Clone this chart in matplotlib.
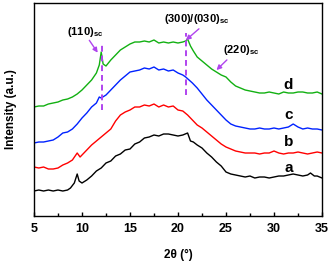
import numpy as np
import matplotlib
matplotlib.use('Agg')
from matplotlib import pyplot as plt

plt.rcParams['font.family'] = ['Liberation Sans', 'DejaVu Sans']
plt.rcParams['mathtext.fontset'] = 'custom'
plt.rcParams['mathtext.rm'] = 'Liberation Sans:bold'
plt.rcParams['mathtext.bf'] = 'Liberation Sans:bold'

# XRD patterns (arbitrary intensity units, curves already offset)
theta_a = [5.0, 5.5, 6.0, 6.5, 7.0, 7.5, 8.0, 8.5, 8.8, 9.2, 9.5, 9.7, 10.0, 10.5,
           11.0, 11.5, 12.0, 12.5, 13.0, 13.5, 14.0, 14.5, 15.0, 15.5, 16.0, 16.5,
           17.0, 17.5, 18.0, 18.5, 19.0, 19.5, 20.0, 20.5, 21.0, 21.3, 21.6, 22.0,
           22.5, 23.0, 23.5, 24.0, 24.5, 25.0, 25.5, 26.0, 26.5, 27.0, 27.5, 28.0,
           28.5, 29.0, 29.5, 30.0, 30.5, 31.0, 31.5, 32.0, 32.5, 33.0, 33.5, 33.8,
           34.2, 34.5, 35.0]
int_a = [25, 26, 25, 26, 25, 26, 25, 26, 28, 33, 42, 35, 33, 36,
         40, 45, 48, 53, 55, 60, 62, 66, 67, 72, 74, 78,
         79, 81, 80, 82, 82, 81, 80, 81, 83, 75, 74, 71,
         68, 63, 59, 54, 50, 44, 42, 41, 40, 39, 40, 38,
         39, 39, 38, 39, 40, 40, 41, 42, 41, 40, 41, 43,
         40, 40, 38]

theta_b = [5.0, 5.5, 6.0, 6.5, 7.0, 7.5, 8.0, 8.5, 9.0, 9.5, 9.8, 10.5, 11.0,
           11.5, 12.0, 12.5, 13.0, 13.5, 14.0, 14.5, 15.0, 15.5, 16.0, 16.5,
           17.0, 17.5, 18.0, 18.5, 19.0, 19.5, 20.0, 20.5, 21.0, 21.5, 22.0,
           22.5, 23.0, 23.5, 24.0, 24.5, 25.0, 25.5, 26.0, 26.5, 27.0, 27.5,
           28.0, 28.5, 29.0, 29.5, 30.0, 30.5, 31.0, 31.5, 32.0, 32.5, 33.0,
           33.5, 34.0, 34.5, 35.0]
int_b = [49, 48, 49, 47, 47, 48, 51, 53, 56, 63, 59, 66, 71,
         75, 79, 83, 87, 95, 101, 104, 106, 109, 109, 111,
         110, 112, 109, 111, 109, 110, 106, 105, 101, 96, 91,
         88, 84, 80, 76, 72, 69, 67, 65, 64, 63, 63,
         63, 62, 63, 63, 65, 63, 62, 63, 63, 64, 63,
         62, 63, 64, 63]

theta_c = [5.0, 5.5, 6.0, 6.5, 7.0, 7.5, 8.0, 8.5, 9.0, 9.5, 10.0, 10.5, 11.0,
           11.5, 11.8, 12.0, 12.5, 13.0, 13.5, 14.0, 14.5, 15.0, 15.5, 16.0,
           16.5, 17.0, 17.5, 18.0, 18.5, 19.0, 19.5, 20.0, 20.5, 20.8, 21.5,
           22.0, 22.5, 23.0, 23.5, 24.0, 24.5, 25.0, 25.5, 26.0, 26.5, 27.0,
           27.5, 28.0, 28.5, 29.0, 29.5, 30.0, 30.5, 31.0, 31.5, 32.0, 32.5,
           33.0, 33.5, 34.0, 34.5, 35.0]
int_c = [73, 74, 74, 75, 76, 79, 83, 84, 87, 92, 98, 103, 109,
         113, 119, 118, 121, 126, 131, 136, 140, 144, 145, 146,
         148, 147, 149, 146, 147, 145, 146, 143, 141, 139, 133,
         128, 122, 116, 111, 106, 101, 96, 92, 90, 89, 88,
         87, 87, 88, 87, 87, 88, 87, 88, 89, 92, 89,
         87, 88, 87, 87, 86]

theta_d = [5.0, 5.5, 6.0, 6.5, 7.0, 7.5, 8.0, 8.5, 9.0, 9.5, 10.0, 10.5, 11.0,
           11.5, 11.8, 12.0, 12.2, 12.5, 13.0, 13.5, 14.0, 14.5, 15.0, 15.5,
           16.0, 16.5, 17.0, 17.5, 18.0, 18.5, 19.0, 19.5, 20.0, 20.5, 20.8,
           21.0, 21.3, 21.6, 22.0, 22.5, 23.0, 23.5, 24.0, 24.5, 25.0, 25.5,
           26.0, 26.5, 27.0, 27.5, 28.0, 28.5, 29.0, 29.5, 30.0, 30.5, 31.0,
           31.5, 32.0, 32.5, 33.0, 33.5, 34.0, 34.5, 35.0]
int_d = [109, 110, 110, 112, 113, 114, 116, 117, 119, 122, 126, 131, 136,
         143, 151, 164, 152, 150, 156, 161, 166, 169, 172, 174,
         174, 175, 174, 176, 173, 174, 173, 174, 173, 174, 175,
         177, 170, 165, 159, 155, 151, 147, 144, 141, 139, 134,
         130, 128, 126, 125, 124, 123, 123, 124, 123, 122, 124,
         123, 123, 124, 124, 123, 123, 124, 122]

curve_names = ['a', 'b', 'c', 'd']
curve_colors = ['black', '#ff0000', '#0022ff', '#12b012']
purple = '#b044ee'

fig = plt.figure(figsize=(3.31, 2.61), dpi=100)
ax = fig.add_axes([0.1027, 0.1724, 0.8701, 0.8161])

for th, y, col in zip([theta_a, theta_b, theta_c, theta_d],
                      [int_a, int_b, int_c, int_d], curve_colors):
    ax.plot(th, y, color=col, lw=1.0)

# curve letters
for name, yy in zip(curve_names, [48, 74, 101, 131]):
    ax.text(31.5, yy, name, fontsize=11, fontweight='bold', ha='center', va='center')

# reflection markers
ax.plot([12.1, 12.1], [106, 174], ls=(0, (3, 2)), color=purple, lw=1.4)
ax.plot([20.8, 20.8], [121, 183], ls=(0, (3, 2)), color=purple, lw=1.4)

aprops = dict(arrowstyle='-|>', color=purple, lw=1.0, mutation_scale=7)
ax.annotate('', xy=(11.8, 161), xytext=(10.6, 178), arrowprops=aprops)
ax.annotate('', xy=(20.6, 174), xytext=(22.4, 189), arrowprops=aprops)
ax.annotate('', xy=(23.8, 144), xytext=(25.3, 158), arrowprops=aprops)

ax.text(10.3, 184, r'(110)$_{\mathrm{sc}}$', fontsize=8, fontweight='bold', ha='center', va='center')
ax.text(22.0, 197, r'(300)/(030)$_{\mathrm{sc}}$', fontsize=8, fontweight='bold', ha='center', va='center')
ax.text(26.6, 166, r'(220)$_{\mathrm{sc}}$', fontsize=8, fontweight='bold', ha='center', va='center')

ax.set_xlim(5, 35)
ax.set_ylim(0, 213)
ax.set_xticks([5, 10, 15, 20, 25, 30, 35])
ax.set_xticks(np.arange(7.5, 35, 5), minor=True)
ax.set_yticks([])
ax.tick_params(axis='x', which='major', direction='in', length=3, width=1, labelsize=9, pad=5)
ax.tick_params(axis='x', which='minor', direction='in', length=2, width=1)
for lab in ax.get_xticklabels():
    lab.set_fontweight('bold')
for sp in ax.spines.values():
    sp.set_linewidth(1.0)

ax.set_xlabel('2θ (°)', fontsize=8.5, fontweight='bold', labelpad=10)
ax.set_ylabel('Intensity (a.u.)', fontsize=8.5, fontweight='bold', labelpad=12)

fig.savefig('out.png', dpi=100)
